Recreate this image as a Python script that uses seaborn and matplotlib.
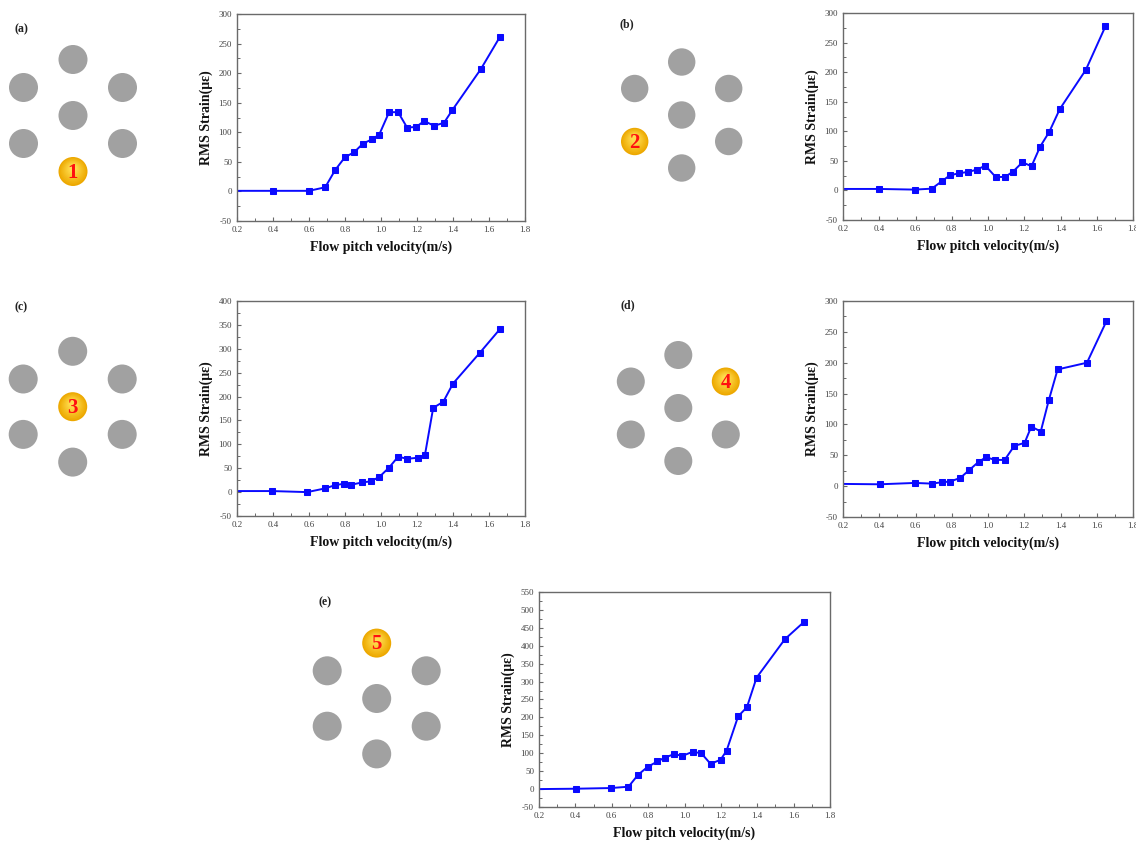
import numpy as np
import pandas as pd
import seaborn as sns
import matplotlib.pyplot as plt
from matplotlib.patches import Circle

# ---------------- data ----------------
x_a = [0.20, 0.40, 0.60, 0.69, 0.745, 0.80, 0.85, 0.90, 0.95, 0.99, 1.045, 1.095, 1.145, 1.195, 1.24, 1.295, 1.35, 1.395, 1.555, 1.66]
y_a = [1, 1, 1, 7, 36, 58, 66, 81, 88, 96, 134, 134, 108, 109, 119, 111, 116, 137, 207, 261]

x_b = [0.20, 0.40, 0.595, 0.69, 0.745, 0.79, 0.84, 0.89, 0.94, 0.985, 1.042, 1.094, 1.138, 1.19, 1.24, 1.288, 1.338, 1.396, 1.54, 1.648]
y_b = [2.5, 2.5, 1.4, 3, 15.5, 25.6, 29, 31.3, 35.2, 42, 22.8, 22.8, 31.8, 47.6, 40.9, 74.2, 99, 137.5, 204, 277.5]

x_c = [0.20, 0.395, 0.59, 0.69, 0.747, 0.797, 0.836, 0.895, 0.942, 0.99, 1.044, 1.095, 1.146, 1.205, 1.244, 1.29, 1.346, 1.40, 1.55, 1.66]
y_c = [2.2, 2.2, 0, 7.8, 14.8, 17.6, 15.5, 20.3, 22.4, 31.5, 51, 74, 69.8, 71.9, 77.5, 176.4, 189, 227.2, 292, 340.8]

x_d = [0.20, 0.402, 0.597, 0.689, 0.746, 0.79, 0.847, 0.895, 0.948, 0.989, 1.039, 1.092, 1.145, 1.202, 1.239, 1.291, 1.335, 1.384, 1.546, 1.653]
y_d = [3.6, 3, 5.2, 4.1, 6.3, 7.4, 13.3, 25.7, 39.3, 46.8, 42.5, 42.5, 65.2, 70.1, 96.6, 88.5, 138.8, 189.1, 200, 267]

x_e = [0.20, 0.402, 0.594, 0.692, 0.745, 0.798, 0.851, 0.892, 0.943, 0.989, 1.044, 1.092, 1.143, 1.198, 1.231, 1.295, 1.343, 1.396, 1.552, 1.659]
y_e = [0, 1, 2.9, 6.6, 40, 62.2, 77, 88, 97.4, 92.8, 103.9, 100.2, 70.5, 81.7, 106.7, 203.2, 228.2, 310.7, 418.3, 467.4]

panel_labels = ["(a)", "(b)", "(c)", "(d)", "(e)"]
cylinder_numbers = ["1", "2", "3", "4", "5"]
y_limits = [(-50, 300), (-50, 300), (-50, 400), (-50, 300), (-50, 550)]
x_ticks = [0.2, 0.4, 0.6, 0.8, 1.0, 1.2, 1.4, 1.6, 1.8]
x_label = "Flow pitch velocity(m/s)"
y_label = "RMS Strain(\u03bc\u03b5)"

series = [(x_a, y_a), (x_b, y_b), (x_c, y_c), (x_d, y_d), (x_e, y_e)]

# ---------------- layout (pixels) ----------------
W, H = 1136, 842
axes_px = [  # left, top, right, bottom
    (237, 14, 525, 221),
    (843, 13, 1133, 220),
    (237, 301, 525, 516),
    (843, 301, 1133, 517),
    (539, 592, 830, 807),
]
# hex diagram: centre x, centre y, dx, dy, radius, highlighted position
diagrams = [
    (73.0, 115.5, 49.5, 28.0, 14.5, 6),
    (681.7, 115.0, 47.0, 26.5, 13.7, 4),
    (72.7, 406.7, 49.5, 27.7, 14.5, 3),
    (678.3, 408.0, 47.5, 26.5, 14.0, 2),
    (376.7, 698.5, 49.5, 27.7, 14.5, 0),
]
label_pos = [(21, 29), (627, 24), (21, 307), (628, 305), (325, 602)]

sns.set_theme(style="ticks")
plt.rcParams['font.family'] = ['Liberation Serif', 'DejaVu Serif']
plt.rcParams['axes.unicode_minus'] = False

fig = plt.figure(figsize=(W / 100, H / 100), dpi=100)
fig.patch.set_facecolor('white')

spine_col = '#6a6a6a'
for i, ((xs, ys), (l, t, r, b)) in enumerate(zip(series, axes_px)):
    ax = fig.add_axes([l / W, 1 - b / H, (r - l) / W, (b - t) / H])
    df = pd.DataFrame({"v": xs, "s": ys})
    sns.lineplot(data=df, x="v", y="s", ax=ax, color='#0a0aff', linewidth=1.4,
                 marker='s', markersize=3.8, markeredgecolor='#0a0aff',
                 markevery=list(range(1, len(xs))), sort=False, estimator=None)
    ax.set_xlim(0.2, 1.8)
    lo, hi = y_limits[i]
    ax.set_ylim(lo, hi)
    ax.set_xticks(x_ticks)
    ax.set_xticklabels([f"{v:.1f}" for v in x_ticks])
    ax.set_yticks(np.arange(lo, hi + 1, 50))
    ax.set_xticks(np.arange(0.3, 1.8, 0.2), minor=True)
    ax.set_yticks(np.arange(lo + 25, hi, 50), minor=True)
    ax.tick_params(which='both', direction='in', colors=spine_col, labelcolor='#444444',
                   labelsize=6.5, top=False, right=False)
    ax.tick_params(which='major', length=3, width=0.8)
    ax.tick_params(which='minor', length=2, width=0.7)
    for sp in ax.spines.values():
        sp.set_color(spine_col)
        sp.set_linewidth(1.0)
        sp.set_visible(True)
    ax.set_xlabel(x_label, fontsize=10, fontweight='bold', color='#111111', labelpad=5)
    ax.set_ylabel(y_label, fontsize=10, fontweight='bold', color='#111111', labelpad=4)
    ax.grid(False)

# ---------------- hexagonal cylinder diagrams ----------------
ov = fig.add_axes([0, 0, 1, 1], zorder=-1)
ov.set_xlim(0, W)
ov.set_ylim(H, 0)
ov.axis('off')

for k, (cx, cy, dx, dy, rad, hl) in enumerate(diagrams):
    offs = [(0, -2 * dy), (-dx, -dy), (dx, -dy), (0, 0), (-dx, dy), (dx, dy), (0, 2 * dy)]
    for j, (ox, oy) in enumerate(offs):
        px, py = cx + ox, cy + oy
        if j == hl:
            layers = 10
            for n in range(layers):
                f = n / (layers - 1)
                c1 = np.array([0.93, 0.66, 0.0])
                c2 = np.array([1.0, 0.86, 0.30])
                col = c1 * (1 - f) + c2 * f
                rr = rad * (1 - 0.75 * f)
                ov.add_patch(Circle((px, py - 3.0 * f), rr, facecolor=col, edgecolor='none'))
            ov.text(px, py + 1, cylinder_numbers[k], color='#ff1010', fontsize=15,
                    fontweight='bold', ha='center', va='center')
        else:
            ov.add_patch(Circle((px, py), rad, facecolor='#a1a1a1', edgecolor='none'))
    lx, ly = label_pos[k]
    ov.text(lx, ly, panel_labels[k], fontsize=8.5, fontweight='bold', ha='center',
            va='center', color='#222222')

fig.savefig("out.png", dpi=100, facecolor='white')
